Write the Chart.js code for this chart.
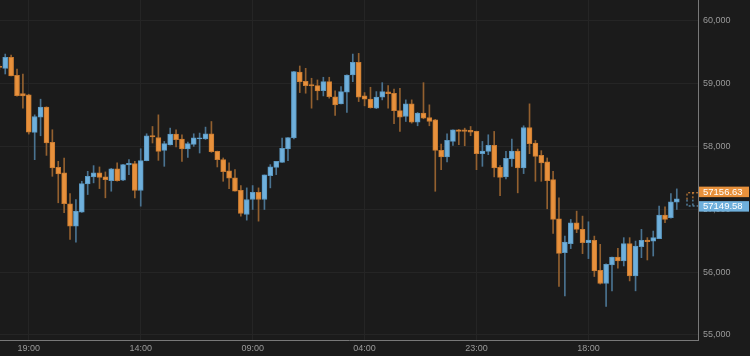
<!DOCTYPE html>
<html>
<head>
<meta charset="utf-8">
<script src="https://cdn.jsdelivr.net/npm/chart.js@4.4.0/dist/chart.umd.min.js"></script>
<style>
  html, body { margin: 0; padding: 0; background: #1b1b1b; }
  #chart { display: block; }
</style>
</head>
<body>
<canvas id="chart" width="750" height="356"></canvas>
<script>
// hourly candles, index 0 = 14:00 (mostly cut off on the left)
const opens = [
  59275, 59242, 59417, 59131, 58840, 58819, 58222, 58466, 58624, 58063,
  57667, 57578, 57087, 56732, 56954, 57404, 57515, 57578, 57515, 57456,
  57642, 57461, 57705, 57726, 57298, 57773, 58174, 58142, 57936, 58022,
  58196, 58117, 57958, 58032, 58117, 58117, 58201, 57920, 57789, 57610,
  57499, 57302, 56917, 57155, 57271, 57155, 57535, 57667, 57746, 57958,
  58133, 59184, 59036, 58983, 58967, 58888, 59030, 58788, 58677, 58862,
  59136, 59337, 58803, 58751, 58608, 58783, 58867, 58846, 58570, 58475,
  58677, 58386, 58529, 58460, 58423, 57936, 57832, 58079, 58265, 58265,
  58254, 58238, 57884, 57920, 58015, 57667, 57515, 57800, 57927, 57657,
  58301, 58054, 57857, 57753, 57472, 56849, 56310, 56453, 56786, 56680,
  56469, 56505, 56030, 55819, 56114, 56240, 56177, 56453, 55939, 56405,
  56510, 56494, 56532, 56906, 56865, 57113
];
const highs = [
  59300, 59469, 59453, 59231, 59152, 58830, 58502, 58751, 58630, 58265,
  57762, 57816, 57250, 57155, 57445, 57604, 57694, 57673, 57594, 57650,
  57737, 57715, 57789, 57762, 57963, 58201, 58317, 58502, 58079, 58291,
  58265, 58185, 58070, 58201, 58212, 58307, 58396, 57925, 57816, 57737,
  57630, 57377, 57340, 57377, 57340, 57546, 57710, 57762, 58133, 58142,
  59195, 59279, 59242, 59084, 59057, 59100, 59100, 58883, 58951, 59140,
  59469, 59480, 58856, 58941, 58872, 59014, 58967, 58910, 58925, 58740,
  58740, 58539, 59014, 58661, 58430, 58038, 58201, 58265, 58270, 58290,
  58317, 58243, 58079, 58185, 58238, 57694, 57920, 58117, 57958, 58328,
  58677, 58095, 57932, 57816, 57603, 57182, 56573, 56838, 56970, 56891,
  56801, 56573, 56442, 56130, 56240, 56378, 56548, 56548, 56494, 56680,
  56548, 56653, 57049, 57039, 57250, 57324
];
const lows = [
  59220, 59152, 59120, 58800, 58608, 58196, 57789, 58169, 57857, 57524,
  57103, 56944, 56521, 56478, 56950, 57234, 57420, 57329, 57182, 57287,
  57445, 57455, 57551, 57182, 57049, 57770, 58054, 57778, 57683, 58022,
  57990, 57762, 57825, 58000, 57895, 58110, 57905, 57673, 57445, 57329,
  57287, 56890, 56827, 56996, 56811, 56996, 57340, 57551, 57746, 57773,
  58120, 58856, 58846, 58608, 58740, 58803, 58767, 58491, 58677, 58539,
  59030, 58713, 58645, 58608, 58600, 58740, 58608, 58360, 58238, 58396,
  58370, 58328, 58439, 58328, 57286, 57630, 57752, 58015, 58027, 58010,
  58170, 57630, 57683, 57868, 57515, 57218, 57483, 57683, 57261, 57567,
  57884, 57445, 57445, 57007, 56616, 55771, 55623, 56374, 56627, 56294,
  56215, 55930, 55810, 55454, 55702, 56061, 56098, 55860, 55702, 56230,
  56193, 56256, 56532, 56785, 56860, 56996
];
const closes = [
  59255, 59417, 59120, 58808, 58803, 58228, 58475, 58624, 58054, 57657,
  57562, 57087, 56732, 56970, 57409, 57524, 57578, 57508, 57472, 57642,
  57456, 57710, 57730, 57298, 57773, 58169, 58149, 57920, 58043, 58196,
  58106, 57958, 58043, 58138, 58138, 58201, 57916, 57789, 57599, 57493,
  57287, 56933, 57155, 57271, 57155, 57546, 57673, 57762, 57968, 58142,
  59189, 59025, 58967, 58962, 58883, 59030, 58792, 58661, 58872, 59136,
  59337, 58783, 58751, 58618, 58783, 58872, 58840, 58570, 58466, 58677,
  58386, 58529, 58450, 58396, 57936, 57832, 58095, 58265, 58238, 58240,
  58228, 57884, 57926, 58015, 57657, 57508, 57810, 57927, 57657, 58301,
  58043, 57841, 57736, 57456, 56838, 56299, 56478, 56786, 56680, 56469,
  56510, 56018, 55819, 56125, 56240, 56177, 56453, 55939, 56415, 56505,
  56485, 56548, 56906, 56838, 57118, 57166
];

const tickIndex = [5, 24, 43, 62, 81, 100];
const tickLabels = ['19:00', '14:00', '09:00', '04:00', '23:00', '18:00'];
const priceTicks = [55000, 56000, 57000, 58000, 59000, 60000];

const askPrice = 57156.63;
const bidPrice = 57149.58;
const pendingRange = [57060, 57270];   // dashed box of the forming candle
const pendingIndex = 117.15;

const UP = '#6fb0dc', UP_EDGE = '#5b98c2', UP_WICK = '#4a7391';
const DOWN = '#e8913c', DOWN_EDGE = '#c97b31', DOWN_WICK = '#93602f';
const TEXT = '#9a9a9a';
const GRID = '#252525';
const AXIS = '#787878';

const isUp = closes.map((c, i) => c >= opens[i]);

const priceTags = {
  id: 'priceTags',
  afterDraw(chart) {
    const { ctx, chartArea, scales: { x, y } } = chart;
    const mid = y.getPixelForValue((askPrice + bidPrice) / 2);
    const top = y.getPixelForValue(pendingRange[1]);
    const bot = y.getPixelForValue(pendingRange[0]);
    const x0 = x.getPixelForValue(pendingIndex - 0.5);
    const x1 = x.getPixelForValue(pendingIndex + 0.5);

    ctx.save();
    ctx.lineWidth = 1;
    ctx.setLineDash([2, 2]);
    ctx.strokeStyle = DOWN;
    ctx.beginPath();
    ctx.moveTo(x0 + 0.5, mid); ctx.lineTo(x0 + 0.5, top + 0.5); ctx.lineTo(chartArea.right, top + 0.5);
    ctx.moveTo(x1 + 0.5, top); ctx.lineTo(x1 + 0.5, mid);
    ctx.stroke();
    ctx.strokeStyle = UP;
    ctx.beginPath();
    ctx.moveTo(x0 + 0.5, mid); ctx.lineTo(x0 + 0.5, bot + 0.5); ctx.lineTo(chartArea.right, bot + 0.5);
    ctx.moveTo(x1 + 0.5, bot); ctx.lineTo(x1 + 0.5, mid);
    ctx.stroke();
    ctx.setLineDash([]);

    const left = chartArea.right + 1;
    const w = chart.width - left - 1;
    ctx.fillStyle = DOWN;
    ctx.fillRect(left, mid - 13, w, 10.5);
    ctx.fillStyle = UP;
    ctx.fillRect(left, mid + 1.5, w, 10.5);
    ctx.fillStyle = '#ffffff';
    ctx.font = '9.5px "Liberation Sans", Arial, sans-serif';
    ctx.textBaseline = 'middle';
    ctx.textAlign = 'left';
    ctx.fillText(askPrice.toFixed(2), left + 4, mid - 7.5);
    ctx.fillText(bidPrice.toFixed(2), left + 4, mid + 7);
    ctx.restore();
  }
};

const font = { family: '"Liberation Sans", Arial, sans-serif', size: 9 };

new Chart(document.getElementById('chart'), {
  type: 'bar',
  data: {
    datasets: [
      {
        label: 'body',
        data: opens.map((o, i) => ({ x: i, y: [o, closes[i]] })),
        backgroundColor: isUp.map(u => u ? UP : DOWN),
        borderColor: isUp.map(u => u ? UP_EDGE : DOWN_EDGE),
        borderWidth: 1,
        borderSkipped: false,
        barThickness: 5,
        minBarLength: 1,
        grouped: false
      },
      {
        label: 'wick',
        data: lows.map((l, i) => ({ x: i, y: [l, highs[i]] })),
        backgroundColor: isUp.map(u => u ? UP_WICK : DOWN_WICK),
        borderWidth: 0,
        barThickness: 1,
        grouped: false
      }
    ]
  },
  options: {
    responsive: false,
    animation: false,
    devicePixelRatio: 1,
    layout: { padding: 0 },
    plugins: { legend: { display: false }, tooltip: { enabled: false } },
    scales: {
      x: {
        type: 'linear',
        min: 0.112,
        max: 118.6,
        offset: false,
        afterBuildTicks: s => { s.ticks = tickIndex.map(v => ({ value: v })); },
        afterFit: s => { s.height = 16; s.paddingLeft = 0; s.paddingRight = 0; },
        ticks: {
          autoSkip: false,
          maxRotation: 0,
          padding: 3,
          color: TEXT,
          font: font,
          callback: v => tickLabels[tickIndex.indexOf(v)]
        },
        grid: { color: GRID, drawTicks: false, offset: false },
        border: { color: AXIS }
      },
      y: {
        type: 'linear',
        position: 'right',
        min: 54920,
        max: 60329,
        afterBuildTicks: s => { s.ticks = priceTicks.map(v => ({ value: v })); },
        afterFit: s => { s.width = 52; s.paddingTop = 0; s.paddingBottom = 0; },
        ticks: {
          padding: 5,
          color: TEXT,
          font: font,
          callback: v => v.toLocaleString('en-US')
        },
        grid: { color: GRID, drawTicks: false },
        border: { color: AXIS }
      }
    }
  },
  plugins: [priceTags]
});
</script>
</body>
</html>
